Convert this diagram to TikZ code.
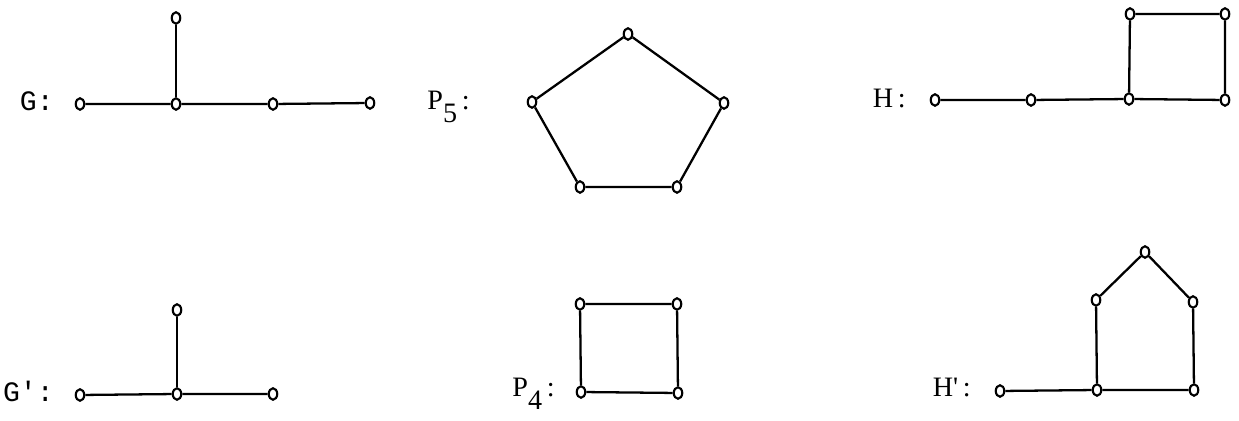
\documentclass[tikz,border=0pt]{standalone}
\usepackage{fontspec}
\setmainfont{Liberation Serif}
\setmonofont{Liberation Mono}
\usetikzlibrary{shapes.geometric}
\begin{document}
\begin{tikzpicture}[
        x=0.02cm, y=-0.02cm,
        vertex/.style={ellipse, draw, fill=white, line width=1.2pt, inner sep=0pt, minimum width=0.17cm, minimum height=0.23cm},
        glabel/.style={font=\ttfamily\fontsize{16}{18}\selectfont, inner sep=0pt, anchor=base east},
        slabel/.style={font=\rmfamily\fontsize{16}{18}\selectfont, inner sep=0pt, anchor=base east},
        edge/.style={line width=1.3pt}
    ]
    \useasboundingbox (0,0) rectangle (1239,421);

    % Graph G
    \node[glabel] (lg) at (54,111) {G:};
    \node[vertex] (g1) at (80,104) {};
    \node[vertex] (g2) at (176,104) {};
    \node[vertex] (g3) at (273,104) {};
    \node[vertex] (g4) at (370,103) {};
    \node[vertex] (g5) at (176,18) {};
    \draw[edge] (g1) -- (g2) -- (g3) -- (g4);
    \draw[edge] (g2) -- (g5);

    % Graph P5
    \node[slabel] (lp5) at (470,110) {P\raisebox{-7pt}{5}\,:};
    \node[vertex] (p1) at (628,34) {};
    \node[vertex] (p2) at (724,103) {};
    \node[vertex] (p3) at (677,187) {};
    \node[vertex] (p4) at (580,187) {};
    \node[vertex] (p5) at (532,102) {};
    \draw[edge] (p1) -- (p2) -- (p3) -- (p4) -- (p5) -- (p1);

    % Graph H
    \node[slabel] (lh) at (906,108) {H\,:};
    \node[vertex] (h1) at (935,100) {};
    \node[vertex] (h2) at (1031,100) {};
    \node[vertex] (h3) at (1129,99) {};
    \node[vertex] (h4) at (1225,100) {};
    \node[vertex] (h5) at (1130,14) {};
    \node[vertex] (h6) at (1225,14) {};
    \draw[edge] (h1) -- (h2) -- (h3) -- (h4) -- (h6) -- (h5) -- (h3);

    % Graph G'
    \node[glabel] (lgp) at (54,402) {G':};
    \node[vertex] (q1) at (80,395) {};
    \node[vertex] (q2) at (177,394) {};
    \node[vertex] (q3) at (273,394) {};
    \node[vertex] (q4) at (177,310) {};
    \draw[edge] (q1) -- (q2) -- (q3);
    \draw[edge] (q2) -- (q4);

    % Graph P4
    \node[slabel] (lp4) at (555,397) {P\raisebox{-7pt}{4}\,:};
    \node[vertex] (r1) at (580,304) {};
    \node[vertex] (r2) at (677,304) {};
    \node[vertex] (r3) at (678,393) {};
    \node[vertex] (r4) at (581,392) {};
    \draw[edge] (r1) -- (r2) -- (r3) -- (r4) -- (r1);

    % Graph H'
    \node[slabel] (lhp) at (971,397) {H\textquotesingle\,:};
    \node[vertex] (s1) at (1000,391) {};
    \node[vertex] (s2) at (1097,390) {};
    \node[vertex] (s3) at (1194,390) {};
    \node[vertex] (s4) at (1193,302) {};
    \node[vertex] (s5) at (1145,252) {};
    \node[vertex] (s6) at (1096,300) {};
    \draw[edge] (s1) -- (s2) -- (s3) -- (s4) -- (s5) -- (s6) -- (s2);

\end{tikzpicture}
\end{document}
